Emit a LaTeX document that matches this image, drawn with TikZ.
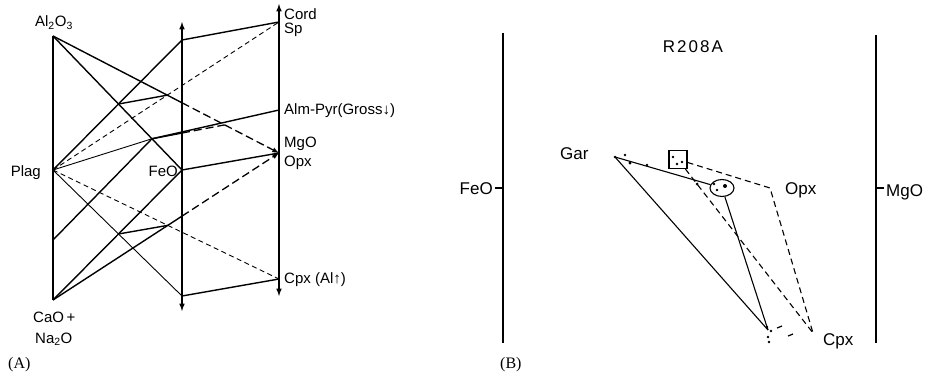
\documentclass[tikz,border=0pt]{standalone}
\usepackage{fontspec}
\setsansfont{Liberation Sans}
\newfontfamily\panelfont{Liberation Serif}
\usetikzlibrary{shapes,arrows,positioning,calc}

\begin{document}
\begin{tikzpicture}[x=1pt,y=-1pt,
	lbl/.style={font=\sffamily\fontsize{15}{17}\selectfont, inner sep=0pt},
	lblb/.style={font=\sffamily\fontsize{17}{19}\selectfont, inner sep=0pt},
	tag/.style={font=\panelfont\fontsize{16}{18}\selectfont, inner sep=0pt},
	axis/.style={line width=1.5pt, <->, >=latex},
	frame/.style={line width=1.5pt},
	tie/.style={line width=1.4pt},
	thin tie/.style={line width=0.9pt},
	dash tie/.style={line width=0.9pt, dash pattern=on 5pt off 3.5pt},
	heavy dash/.style={line width=1.3pt, dash pattern=on 8pt off 4pt, >=latex},
	btie/.style={line width=1.1pt},
	bdash/.style={line width=1.1pt, dash pattern=on 6pt off 4pt}]
	\useasboundingbox (0,0) rectangle (928,379);

	\coordinate (al) at (53,36);
	\coordinate (plag) at (53,170);
	\coordinate (ll) at (53,240);
	\coordinate (cao) at (53,300);
	\coordinate (mtop) at (182,22);
	\coordinate (mbot) at (182,311);
	\coordinate (rtop) at (279,4);
	\coordinate (rbot) at (279,296);
	\coordinate (t1) at (182,40);
	\coordinate (feo) at (182,170);
	\coordinate (t2) at (182,296);
	\coordinate (sp) at (279,22);
	\coordinate (alm) at (279,110);
	\coordinate (opx) at (279,153);
	\coordinate (cpx) at (279,279);
	\coordinate (m1) at (intersection of al--opx and mtop--mbot);
	\coordinate (m2) at (intersection of cao--opx and mtop--mbot);
	\coordinate (p1) at (intersection of al--feo and plag--t1);
	\coordinate (p3) at (intersection of cao--feo and plag--t2);
	\coordinate (p2) at ($(al)!0.767!(feo)$);
	\coordinate (x1) at (intersection of al--opx and plag--sp);
	\coordinate (x3) at (intersection of cao--opx and plag--cpx);
	\coordinate (e2) at ($(m1)!0.44!(opx)$);
	\coordinate (k2) at (intersection of p2--e2 and mtop--mbot);

	\draw[axis] (mtop) -- (mbot);
	\draw[axis] (rtop) -- (rbot);
	\path[tie]
	(al) edge (cao)
	(al) edge (feo)
	(al) edge (m1)
	(plag) edge (t1)
	(t1) edge (sp)
	(cao) edge (feo)
	(cao) edge (m2)
	(ll) edge (p2)
	(p2) edge (alm)
	(p2) edge (k2)
	(p1) edge (x1)
	(p3) edge (x3)
	(feo) edge (opx)
	(t2) edge (cpx);
	\path[thin tie]
	(plag) edge (p2)
	(plag) edge (t2);
	\path[dash tie]
	(plag) edge (sp)
	(plag) edge (cpx);
	\path[heavy dash]
	(m1) edge[->] (opx)
	(m2) edge[->] (opx)
	(k2) edge (e2);

	\node[lbl, anchor=base] (al-l) at (54,27) {Al\textsubscript{2}O\textsubscript{3}};
	\node[lbl, anchor=base east] (plag-l) at (41,177) {Plag};
	\node[lbl, anchor=base east] (feo-l) at (178,177) {FeO};
	\node[lbl, anchor=base west] (cao-l) at (33,322) {CaO\,+};
	\node[lbl, anchor=base west] (na-l) at (35,343) {Na\textsubscript{2}O};
	\node[lbl, anchor=base west] (cord-l) at (284,20) {Cord};
	\node[lbl, anchor=base west] (sp-l) at (284,34) {Sp};
	\node[lbl, anchor=base west] (alm-l) at (284,115) {Alm-Pyr(Gross↓)};
	\node[lbl, anchor=base west] (mgo-l) at (284,148) {MgO};
	\node[lbl, anchor=base west] (opx-l) at (284,167) {Opx};
	\node[lbl, anchor=base west] (cpx-l) at (284,283) {Cpx (Al↑)};
	\node[tag, anchor=base west] (a-tag) at (8,368) {(A)};

	\coordinate (ltop) at (503,33);
	\coordinate (lbot) at (503,343);
	\coordinate (ltick) at (495,188);
	\coordinate (lmid) at (503,188);
	\coordinate (rtopb) at (876,35);
	\coordinate (rbotb) at (876,343);
	\coordinate (rtick) at (884,188);
	\coordinate (rmid) at (876,188);
	\draw[frame] (ltop) -- (lbot);
	\draw[frame] (rtopb) -- (rbotb);
	\draw[btie] (ltick) -- (lmid);
	\draw[btie] (rmid) -- (rtick);

	\node[lblb, anchor=base east] (feo-b) at (493,195) {FeO};
	\node[lblb, anchor=base west] (mgo-b) at (886,197) {MgO};
	\node[lblb, anchor=base] (r208a) at (693,53) {\addfontfeature{LetterSpace=12}R208A};
	\node[lblb, anchor=base west] (gar-l) at (560,160) {Gar};
	\node[lblb, anchor=base west] (opx-b) at (785,195) {Opx};
	\node[lblb, anchor=base west] (cpx-b) at (823,345) {Cpx};
	\node[tag, anchor=base west] (b-tag) at (500,368) {(B)};

	\coordinate (gar) at (615,157);
	\node[draw, line width=1.1pt, minimum size=18pt, inner sep=0pt] (sq) at (678,159.5) {};
	\node[draw, ellipse, line width=1.1pt, minimum width=24pt, minimum height=17pt, inner sep=0pt] (ell) at (722,188) {};
	\coordinate (q) at (697,184);
	\coordinate (opxc) at (770,188);
	\coordinate (cpxc) at (768,330);
	\coordinate (cpxe) at (813,333);

	\path[btie]
	(gar) edge (ell)
	(gar) edge (cpxc)
	(ell) edge (cpxc);
	\draw[bdash] (sq) -- (opxc) -- (cpxe);
	\draw[bdash] (sq) -- (q) -- (cpxe);

	\fill (615,157) circle (1.3pt) (625,155) circle (1.3pt) (630,163) circle (1.7pt)
	(647,165) circle (1.3pt) (697,184) circle (1.5pt)
	(673,157) circle (1.3pt) (682,162) circle (1.3pt) (677,164) circle (1.3pt)
	(714,184) circle (1.3pt) (717,190) circle (1.3pt) (725,186) circle (2pt)
	(767,327) circle (1.3pt) (771,331) circle (1.3pt) (768,337) circle (1.3pt)
	(769,342) circle (1.3pt);
	\draw[line width=1.2pt] (777,328) -- (782,326);
	\draw[line width=1.2pt] (788,336) -- (793,334);
\end{tikzpicture}
\end{document}
